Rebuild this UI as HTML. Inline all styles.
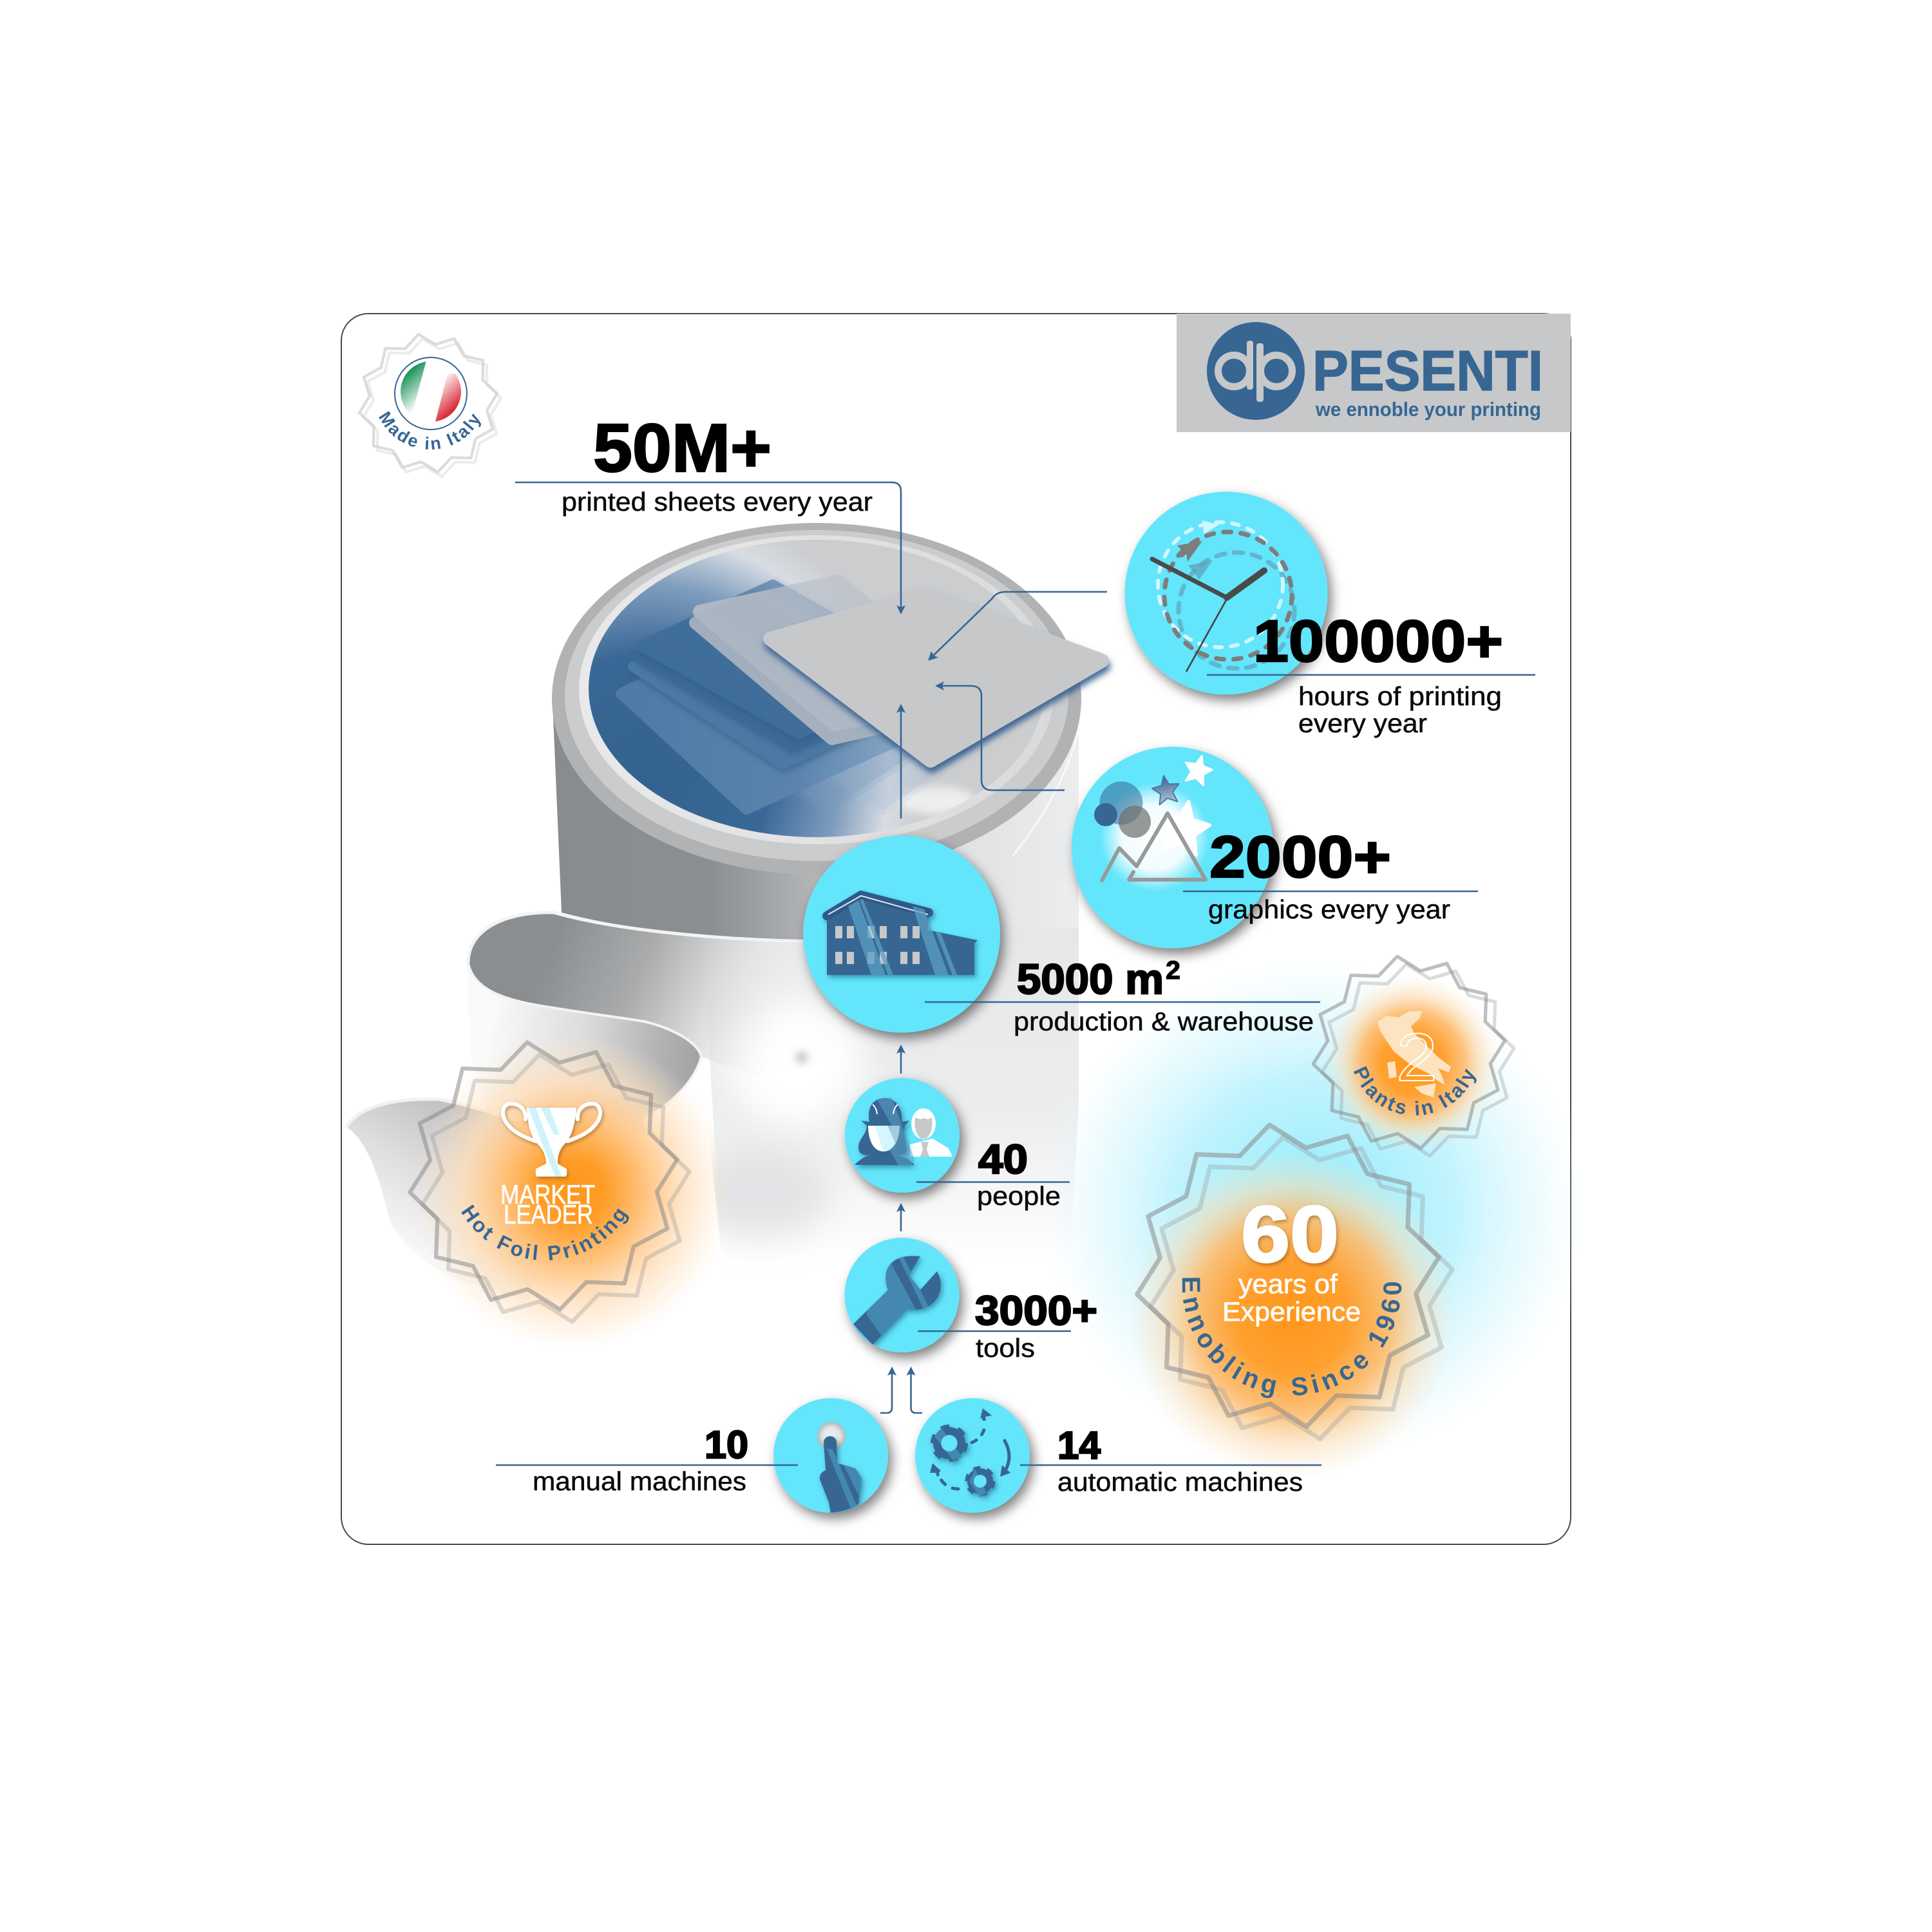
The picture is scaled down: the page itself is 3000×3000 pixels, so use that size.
<!DOCTYPE html>
<html><head><meta charset="utf-8"><style>
html,body{margin:0;padding:0;background:#fff}
svg{display:block}
text{font-family:"Liberation Sans",sans-serif}
.h{font-weight:700;fill:#000;stroke:#000;stroke-width:2.4}
.b{fill:#0a0a0a;stroke:#0a0a0a;stroke-width:.5;font-size:41px}
.c{font-weight:700;fill:#376693;letter-spacing:3px}
.w{fill:#fff;stroke:#fff;stroke-width:.7;font-size:42px}
.ln{stroke:#376693;stroke-width:2.6;fill:none}
.ar{fill:#376693}
.band{fill:#4488b0}
</style></head><body>
<svg xmlns="http://www.w3.org/2000/svg" width="3000" height="3000" viewBox="0 0 3000 3000">
<defs>
<filter id="cs" x="-30%" y="-30%" width="170%" height="170%"><feDropShadow dx="6" dy="9" stdDeviation="9" flood-color="#000" flood-opacity=".5"/></filter>
<filter id="is" x="-30%" y="-30%" width="170%" height="170%"><feDropShadow dx="3" dy="4" stdDeviation="4" flood-color="#0b3a55" flood-opacity=".45"/></filter>
<filter id="ws" x="-30%" y="-30%" width="170%" height="170%"><feDropShadow dx="2" dy="3" stdDeviation="3" flood-color="#6a3c00" flood-opacity=".45"/></filter>
<filter id="sb" x="-30%" y="-30%" width="170%" height="170%"><feDropShadow dx="2" dy="8" stdDeviation="5" flood-color="#2d5a8c" flood-opacity=".9"/></filter>
<filter id="sh2" x="-30%" y="-30%" width="170%" height="170%"><feDropShadow dx="1" dy="5" stdDeviation="5" flood-color="#2a5480" flood-opacity=".55"/></filter>
<filter id="bl" x="-50%" y="-50%" width="200%" height="200%"><feGaussianBlur stdDeviation="28"/></filter>
<filter id="bs" x="-100%" y="-100%" width="300%" height="300%"><feGaussianBlur stdDeviation="7"/></filter>
<linearGradient id="bodyG" gradientUnits="userSpaceOnUse" x1="858" y1="0" x2="1675" y2="0"><stop offset="0" stop-color="#888c8e"/><stop offset=".3" stop-color="#8b8f91"/><stop offset=".5" stop-color="#b4b6b8"/><stop offset=".75" stop-color="#dfe0e2"/><stop offset="1" stop-color="#ecedee"/></linearGradient>
<linearGradient id="lowG" gradientUnits="userSpaceOnUse" x1="0" y1="1450" x2="0" y2="1960"><stop offset="0" stop-color="#e6e7e9"/><stop offset=".55" stop-color="#ecedee"/><stop offset="1" stop-color="#fff"/></linearGradient>
<linearGradient id="ribG" gradientUnits="userSpaceOnUse" x1="850" y1="1480" x2="1230" y2="1640"><stop offset="0" stop-color="#8b8e90"/><stop offset=".35" stop-color="#a9abad"/><stop offset=".6" stop-color="#d5d6d7"/><stop offset="1" stop-color="#fff" stop-opacity="0"/></linearGradient>
<linearGradient id="frG" gradientUnits="userSpaceOnUse" x1="760" y1="1600" x2="1080" y2="1640"><stop offset="0" stop-color="#fafafa"/><stop offset=".45" stop-color="#dcdcdd"/><stop offset=".8" stop-color="#b4b5b6"/><stop offset="1" stop-color="#a3a4a5"/></linearGradient>
<linearGradient id="frV" gradientUnits="userSpaceOnUse" x1="0" y1="1560" x2="0" y2="1780"><stop offset="0" stop-color="#fff"/><stop offset=".75" stop-color="#fff"/><stop offset="1" stop-color="#000"/></linearGradient>
<mask id="frM" maskUnits="userSpaceOnUse" x="600" y="1400" width="700" height="500"><rect x="600" y="1400" width="700" height="500" fill="url(#frV)"/></mask>
<linearGradient id="lrG" gradientUnits="userSpaceOnUse" x1="780" y1="1720" x2="640" y2="1980"><stop offset="0" stop-color="#b6b7b8"/><stop offset=".5" stop-color="#dfdfe0"/><stop offset="1" stop-color="#fff"/></linearGradient>
<radialGradient id="blueG" gradientUnits="userSpaceOnUse" cx="1000" cy="1210" r="432"><stop offset="0" stop-color="#33628f"/><stop offset=".45" stop-color="#3a6896"/><stop offset=".7" stop-color="#7f9dbd"/><stop offset=".88" stop-color="#d8dde3"/><stop offset="1" stop-color="#cccdcf"/></radialGradient>
<linearGradient id="ringG" gradientUnits="userSpaceOnUse" x1="900" y1="1000" x2="1650" y2="1000"><stop offset="0" stop-color="#e9e9ea"/><stop offset="1" stop-color="#d9dadb"/></linearGradient>
<linearGradient id="blueS" gradientUnits="userSpaceOnUse" x1="1100" y1="1150" x2="1250" y2="890"><stop offset="0" stop-color="#3d6b98"/><stop offset=".6" stop-color="#416f9c"/><stop offset="1" stop-color="#8aa5c2"/></linearGradient>
<linearGradient id="blue4" gradientUnits="userSpaceOnUse" x1="1000" y1="0" x2="1400" y2="0"><stop offset="0" stop-color="#4f7ba6"/><stop offset=".6" stop-color="#5a84ad"/><stop offset="1" stop-color="#8aa7c5"/></linearGradient>
<linearGradient id="mkG" gradientUnits="userSpaceOnUse" x1="1200" y1="1100" x2="1320" y2="880"><stop offset="0" stop-color="#f5f5f5"/><stop offset=".6" stop-color="#d8d8d8"/><stop offset="1" stop-color="#5a5a5a"/></linearGradient>
<mask id="mk" maskUnits="userSpaceOnUse" x="1000" y="850" width="600" height="350"><rect x="1000" y="850" width="600" height="350" fill="url(#mkG)"/></mask>
<radialGradient id="org"><stop offset="0" stop-color="#ff971a"/><stop offset=".2" stop-color="#ff9c26"/><stop offset=".45" stop-color="#ffc27c"/><stop offset=".7" stop-color="#ffdfbb" stop-opacity=".8"/><stop offset="1" stop-color="#ffe6c8" stop-opacity="0"/></radialGradient>
<radialGradient id="org2"><stop offset="0" stop-color="#ff971a"/><stop offset=".35" stop-color="#ffa030"/><stop offset=".6" stop-color="#ffbb6c" stop-opacity=".9"/><stop offset=".8" stop-color="#ffdcb2" stop-opacity=".55"/><stop offset="1" stop-color="#ffe6c8" stop-opacity="0"/></radialGradient>
<radialGradient id="cy"><stop offset="0" stop-color="#64e5fc" stop-opacity=".75"/><stop offset=".5" stop-color="#8feafc" stop-opacity=".55"/><stop offset=".8" stop-color="#c8f4fd" stop-opacity=".3"/><stop offset="1" stop-color="#fff" stop-opacity="0"/></radialGradient>
<radialGradient id="gw"><stop offset="0" stop-color="#fff"/><stop offset=".6" stop-color="#fff" stop-opacity=".9"/><stop offset="1" stop-color="#fff" stop-opacity="0"/></radialGradient>
<linearGradient id="fg" x1="0" y1="0" x2=".45" y2="1"><stop offset="0" stop-color="#0a8a4b"/><stop offset=".3" stop-color="#1a9358"/><stop offset="1" stop-color="#fff"/></linearGradient>
<linearGradient id="fr" x1=".9" y1="1" x2=".3" y2="0"><stop offset="0" stop-color="#cc0a16"/><stop offset=".3" stop-color="#d62330"/><stop offset="1" stop-color="#fff"/></linearGradient>
<linearGradient id="bst" x1="0" y1="0" x2="0" y2="1"><stop offset="0" stop-color="#2f5f90"/><stop offset="1" stop-color="#b8c6d6"/></linearGradient>
<radialGradient id="ball" cx=".5" cy=".5"><stop offset="0" stop-color="#eaf8fb"/><stop offset=".6" stop-color="#e2e6e7"/><stop offset="1" stop-color="#b4b6b7"/></radialGradient>
<path id="st" d="M100 0L82.1 22L86.6 50L60.1 60.1L50 86.6L22 82.1L0 100L-22 82.1L-50 86.6L-60.1 60.1L-86.6 50L-82.1 22L-100 0L-82.1 -22L-86.6 -50L-60.1 -60.1L-50 -86.6L-22 -82.1L0 -100L22 -82.1L50 -86.6L60.1 -60.1L86.6 -50L82.1 -22Z" fill="none" stroke-linejoin="round"/>
<path id="p5" d="M0 -100L24 -40L88 -31L40 15L59 81L0 48L-59 81L-40 15L-88 -31L-24 -40Z" stroke-linejoin="round"/>
<path id="pFoil" d="M696 1807 A150 150 0 0 0 996 1807"/>
<path id="pEnn" d="M1839 1965 A170 170 0 1 0 2173 1965"/>
<path id="pPla" d="M2097 1632 A100 100 0 0 0 2297 1632"/>
<path id="pMad" d="M580 610 A88 88 0 0 0 756 610"/>
<clipPath id="cFlag"><circle cx="669" cy="608" r="47"/></clipPath>
<clipPath id="cHand"><path d="M1279 2240a10 10 0 0 1 20 0L1300 2272L1328 2280L1338 2296L1333 2335Q1315 2347 1290 2349L1287 2333L1273 2297Q1272 2287 1282 2283Z"/></clipPath>
<clipPath id="cWr"><path d="M1325 2056L1379 2003C1368 1975 1380 1945 1429 1951L1411 1980L1429 2003L1455 1974C1472 2005 1450 2040 1408 2033L1355 2088Z"/></clipPath>
<clipPath id="cCircT"><circle cx="1400.5" cy="2011" r="89"/></clipPath>
<clipPath id="cCircH"><circle cx="1290" cy="2260" r="89"/></clipPath>
<clipPath id="cBlue"><ellipse cx="1268" cy="1069" rx="354" ry="231"/></clipPath>
<clipPath id="cGlow"><path d="M1675 1300H2600V2500H1300V1705H1675Z"/></clipPath>
</defs>

<rect width="3000" height="3000" fill="#fff"/>
<rect x="530" y="487" width="1909" height="1911" rx="42" fill="#fff" stroke="#4a4a4a" stroke-width="2"/>

<!-- lower light body -->
<path d="M1090 1440H1675V1720L1660 1980H1122Z" fill="url(#lowG)"/>
<ellipse cx="1235" cy="1650" rx="105" ry="100" fill="#fff" filter="url(#bl)"/>
<ellipse cx="1180" cy="1850" rx="110" ry="70" fill="#e2e3e5" filter="url(#bl)"/>
<ellipse cx="1245" cy="1642" rx="8" ry="7" fill="#a0a0a0" filter="url(#bs)"/>
<rect x="1080" y="1985" width="650" height="90" fill="#fff" filter="url(#bl)"/>

<!-- white paper under fold -->
<path d="M1089 1641L1120 1950L1125 2060H800L727 1560Z" fill="#fff"/>

<!-- cylinder body -->
<path d="M858 1090L872 1417C1000 1450 1150 1462 1300 1462L1675 1440V1090Z" fill="url(#bodyG)"/>
<path d="M1680 1100C1670 1190 1620 1270 1572 1330" fill="none" stroke="#fff" stroke-width="3" opacity=".7"/>

<!-- paper front -->
<path d="M727 1495V1560L732 1650L780 1800H1000V1737C1045 1714 1080 1676 1089 1641C1085 1622 1053 1599 1000 1586C950 1578 900 1572 860 1565C790 1555 735 1540 727 1495Z" fill="url(#frG)" mask="url(#frM)"/>
<!-- dark ribbon -->
<path d="M727 1495C727 1440 790 1415 860 1417C960 1445 1130 1462 1300 1462L1350 1462V1700L1250 1700L1089 1641C1085 1622 1053 1599 1000 1586C950 1578 900 1572 860 1565C790 1555 735 1540 727 1495Z" fill="url(#ribG)"/>
<path d="M727 1495C727 1440 790 1415 860 1417C960 1445 1130 1462 1300 1462" fill="none" stroke="#f3f3f3" stroke-width="5"/>
<path d="M727 1495C735 1540 790 1555 860 1565C900 1572 950 1578 1000 1586C1053 1599 1085 1622 1089 1641C1080 1676 1045 1714 1000 1737" fill="none" stroke="#f3f3f3" stroke-width="4"/>

<!-- lower left ribbon -->
<path d="M538 1750C560 1715 620 1705 680 1707C730 1715 780 1735 840 1748L870 1880L820 2020L720 1990Q640 1960 605 1895C590 1830 570 1770 538 1750Z" fill="url(#lrG)"/>
<path d="M538 1750C560 1715 620 1705 680 1707C730 1715 780 1735 840 1748" fill="none" stroke="#f1f1f1" stroke-width="5"/>

<!-- rim -->
<ellipse cx="1268" cy="1085" rx="411" ry="273" fill="#b1b2b4"/>
<ellipse cx="1268" cy="1080" rx="391" ry="257" fill="#cbcccd"/>
<ellipse cx="1268" cy="1071" rx="369" ry="240" fill="url(#ringG)"/>
<ellipse cx="1268" cy="1069" rx="354" ry="231" fill="url(#blueG)"/>
<g clip-path="url(#cBlue)">
<ellipse cx="1455" cy="1243" rx="60" ry="22" fill="#fff" filter="url(#bs)" opacity=".65"/>
</g>

<!-- sheets -->
<g clip-path="url(#cBlue)" stroke-linejoin="round">
<path d="M1144 1120L1300 1000L1560 1130L1373 1258Z" fill="#a5bad2" opacity=".35" stroke="#a5bad2" stroke-width="16" stroke-opacity=".35"/>
<path d="M1063 1110L1240 985L1510 1110L1287 1258Z" fill="#7c9bbd" opacity=".4" stroke="#7c9bbd" stroke-width="16" stroke-opacity=".4"/>
<path d="M964 1077L1170 975L1450 1125L1159 1257Z" fill="url(#blue4)" stroke="url(#blue4)" stroke-width="16"/>
<path d="M983 1035L1190 930L1470 1070L1215 1187Z" fill="#4c79a4" stroke="#4c79a4" stroke-width="16" filter="url(#sh2)"/>
<path d="M989 1017L1195 925L1436 1065L1231 1158Z" fill="#3c6997" stroke="#3c6997" stroke-width="16" filter="url(#sh2)"/>
<path d="M995 1003L1200 908L1446 1045L1241 1140Z" fill="url(#blueS)" stroke="url(#blueS)" stroke-width="16" filter="url(#sh2)"/>
</g>
<g mask="url(#mk)" stroke-linejoin="round">
<path d="M1080 967L1290 905L1520 1095L1292 1147Z" fill="#aab3bf" stroke="#aab3bf" stroke-width="20"/>
<path d="M1087 950L1302 903L1512 1078L1297 1125Z" fill="#b6bdc7" stroke="#b6bdc7" stroke-width="22"/>
</g>
<path d="M1196 992L1435 923L1711 1026L1445 1181Z" fill="#c6c8ca" stroke="#c6c8ca" stroke-width="22" stroke-linejoin="round" filter="url(#sb)"/>

<!-- connectors top -->
<path class="ln" d="M800 749H1385Q1399 749 1399 763V944"/>
<path class="ar" d="M1399 954L1392 940L1399 943L1406 940Z"/>
<path class="ln" d="M1399 1271V1100"/>
<path class="ar" d="M1399 1093L1392 1107L1399 1104L1406 1107Z"/>
<path class="ln" d="M1653 1227H1540Q1524 1227 1524 1211V1081Q1524 1065 1508 1065H1460"/>
<path class="ar" d="M1452 1065L1466 1058L1463 1065L1466 1072Z"/>
<path class="ln" d="M1719 919H1562Q1547 919 1540 930L1447 1020"/>
<path class="ar" d="M1441 1026L1446 1011L1450 1018L1457 1021Z"/>

<!-- made in italy -->
<use href="#st" transform="translate(671 633) rotate(-8) scale(1.08)" stroke="#d0d0d0" stroke-opacity=".4" stroke-width="4"/>
<use href="#st" transform="translate(665 626) rotate(-8) scale(1.08)" stroke="#d0d0d0" stroke-opacity=".75" stroke-width="4"/>
<circle cx="669" cy="611" r="56" fill="#fff" stroke="#376693" stroke-width="2"/>
<g clip-path="url(#cFlag)"><path d="M620 560H662L640 642H620Z" fill="url(#fg)"/><path d="M695 580H725V655H676Z" fill="url(#fr)"/></g>
<text class="c" font-size="27" fill="#376693"><textPath href="#pMad" startOffset="50%" text-anchor="middle">Made in Italy</textPath></text>

<!-- logo -->
<rect x="1827" y="487" width="612" height="184" fill="#c6c8ca"/>
<circle cx="1950" cy="576" r="76" fill="#376693"/>
<circle cx="1916" cy="576" r="24.5" fill="none" stroke="#c6c8ca" stroke-width="11"/>
<circle cx="1982" cy="576" r="24.5" fill="none" stroke="#c6c8ca" stroke-width="11"/>
<rect x="1936" y="529" width="10" height="76" rx="4" fill="#c6c8ca"/>
<rect x="1951" y="533" width="11" height="91" rx="4" fill="#c6c8ca"/>
<rect x="1946" y="529" width="5" height="95" fill="#376693"/>
<text x="2038" y="606" font-size="88" font-weight="700" fill="#376693" stroke="#376693" stroke-width="1.5" textLength="358" lengthAdjust="spacingAndGlyphs">PESENTI</text>
<text x="2043" y="646" font-size="31" font-weight="700" fill="#376693" textLength="350" lengthAdjust="spacingAndGlyphs">we ennoble your printing</text>

<!-- glows and badges right -->
<g clip-path="url(#cGlow)"><ellipse cx="2040" cy="1880" rx="440" ry="410" fill="url(#cy)"/></g>
<circle cx="2193" cy="1651" r="135" fill="url(#org2)"/>
<use href="#st" transform="translate(2202 1646) rotate(-7) scale(1.5)" stroke="#9a9a9a" stroke-opacity=".35" stroke-width="3.5"/>
<use href="#st" transform="translate(2188 1634) rotate(-7) scale(1.5)" stroke="#8a8a8a" stroke-opacity=".55" stroke-width="3.5"/>
<path d="M2140 1587L2154 1578L2172 1581L2189 1571L2207 1571L2203 1581L2190 1593L2195 1605L2215 1625L2232 1642L2252 1657L2249 1664L2231 1657L2238 1670L2242 1683L2231 1676L2221 1667L2190 1652L2165 1632L2150 1610L2144 1600Z" fill="#fde3c0" stroke="#fde3c0" stroke-width="2" stroke-linejoin="round"/>
<path d="M2154 1650L2166 1648L2169 1672L2157 1675Z" fill="#fde3c0"/>
<path d="M2196 1688L2230 1682L2226 1704L2208 1698Z" fill="#fde3c0"/>
<text x="2168" y="1678" font-size="105" fill="none" stroke="#fff" stroke-width="2" textLength="64" lengthAdjust="spacingAndGlyphs">2</text>
<text class="c" font-size="31" style="letter-spacing:3.500px"><textPath href="#pPla" startOffset="50%" text-anchor="middle">Plants in Italy</textPath></text>

<circle cx="2007" cy="2043" r="255" fill="url(#org2)"/>
<use href="#st" transform="translate(2021 2000) rotate(-7) scale(2.36)" stroke="#9a9a9a" stroke-opacity=".35" stroke-width="3"/>
<use href="#st" transform="translate(2000 1981) rotate(-7) scale(2.36)" stroke="#8a8a8a" stroke-opacity=".55" stroke-width="3"/>
<text x="1927" y="1959" font-size="124" font-weight="700" fill="#fff" stroke="#fff" stroke-width="3" textLength="152" lengthAdjust="spacingAndGlyphs" filter="url(#ws)">60</text>
<text class="w" x="1923" y="2008" font-size="43" textLength="154" lengthAdjust="spacingAndGlyphs">years of</text>
<text class="w" x="1898" y="2051" font-size="43" textLength="215" lengthAdjust="spacingAndGlyphs">Experience</text>
<text class="c" font-size="40" style="letter-spacing:7.500px"><textPath href="#pEnn" startOffset="50%" text-anchor="middle">Ennobling Since 1960</textPath></text>

<!-- market leader badge -->
<circle cx="889" cy="1850" r="245" fill="url(#org)"/>
<use href="#st" transform="translate(863 1845) rotate(-7) scale(2.09)" stroke="#9a9a9a" stroke-opacity=".35" stroke-width="3"/>
<use href="#st" transform="translate(844 1826) rotate(-7) scale(2.09)" stroke="#8a8a8a" stroke-opacity=".55" stroke-width="3"/>
<g filter="url(#ws)">
<path d="M816 1738C818 1720 802 1712 790 1714C778 1718 778 1735 790 1748C800 1760 820 1768 832 1772" fill="none" stroke="#fff" stroke-width="6" stroke-linecap="round"/>
<path d="M897 1738C895 1720 911 1712 923 1714C935 1718 935 1735 923 1748C913 1760 893 1768 881 1772" fill="none" stroke="#fff" stroke-width="6" stroke-linecap="round"/>
<path d="M818 1720H895Q892 1760 878 1775Q865 1788 866 1807L880 1815Q881 1827 878 1827H834Q831 1827 832 1815L848 1807Q848 1788 833 1775Q820 1760 818 1720Z" fill="#fff"/>
</g>
<path d="M820 1720H832L872 1827H862Z" fill="#cff3fb"/>
<path d="M840 1720H853L869 1762H860Z" fill="#cff3fb"/>
<text class="w" x="777" y="1869" font-size="41" textLength="147" lengthAdjust="spacingAndGlyphs">MARKET</text>
<text class="w" x="782" y="1900" font-size="41" textLength="139" lengthAdjust="spacingAndGlyphs">LEADER</text>
<text class="c" font-size="32" style="letter-spacing:4px"><textPath href="#pFoil" startOffset="50%" text-anchor="middle">Hot Foil Printing</textPath></text>

<!-- clock -->
<circle cx="1904" cy="921" r="157.5" fill="#64e5fc" filter="url(#cs)"/>
<circle cx="1920" cy="948" r="90" fill="none" stroke="#5d8aa0" stroke-opacity=".5" stroke-width="7" stroke-dasharray="14 14" stroke-linecap="round"/>
<circle cx="1895" cy="908" r="97" fill="none" stroke="#d0f6fe" stroke-width="6" stroke-dasharray="11 14" stroke-linecap="round"/>
<circle cx="1907" cy="925" r="99" fill="none" stroke="#7d7d7d" stroke-width="7" stroke-dasharray="12 15" stroke-linecap="round"/>
<path d="M1867 840L1828 847L1836 856L1830 862L1836 866L1842 860L1844 872Z" fill="#7d7d7d"/>
<path d="M1883 870L1845 878L1862 900Z" fill="#5d9fb5" fill-opacity=".7"/>
<path d="M1893 815L1867 808L1869 829Z" fill="#d0f6fe"/>
<path d="M1905 930L1842 1043" stroke="#444" stroke-width="2.6" fill="none"/>
<path d="M1905 928L1789 868" stroke="#4a4a4a" stroke-width="7" stroke-linecap="round" fill="none"/>
<path d="M1905 928L1963 886" stroke="#4a4a4a" stroke-width="10" stroke-linecap="round" fill="none"/>
<path class="ln" d="M1874 1048H2384"/>
<text class="h" x="1946" y="1027" font-size="92" textLength="388" lengthAdjust="spacingAndGlyphs">100000+</text>
<text class="b" x="2016" y="1095" textLength="316" lengthAdjust="spacingAndGlyphs">hours of printing</text>
<text class="b" x="2016" y="1137" textLength="200" lengthAdjust="spacingAndGlyphs">every year</text>

<!-- graphics -->
<circle cx="1820.5" cy="1316" r="156.5" fill="#64e5fc" filter="url(#cs)"/>
<circle cx="1793" cy="1300" r="85" fill="url(#gw)"/>
<use href="#p5" transform="translate(1838 1288) rotate(10) scale(.44)" fill="#fff" stroke="#fff" stroke-width="12"/>
<use href="#p5" transform="translate(1860 1197) rotate(15) scale(.24)" fill="#fff" stroke="#fff" stroke-width="12"/>
<use href="#p5" transform="translate(1811 1228) rotate(-10) scale(.24)" fill="url(#bst)" stroke="#4a76a0" stroke-width="8"/>
<circle cx="1741" cy="1247" r="33.5" fill="#376693" fill-opacity=".55"/>
<circle cx="1717" cy="1265" r="18" fill="#376693"/>
<circle cx="1762" cy="1276" r="25" fill="#6e6e6e" fill-opacity=".7"/>
<path d="M1711 1367L1738 1317L1765 1345L1813 1263L1872 1366H1753L1760 1354" fill="none" stroke="#999" stroke-width="6" stroke-linecap="round" stroke-linejoin="round"/>
<path class="ln" d="M1837 1384H2295"/>
<text class="h" x="1878" y="1362" font-size="92" textLength="282" lengthAdjust="spacingAndGlyphs">2000+</text>
<text class="b" x="1876" y="1426" textLength="376" lengthAdjust="spacingAndGlyphs">graphics every year</text>

<!-- building -->
<circle cx="1400" cy="1450.5" r="153" fill="#64e5fc" filter="url(#cs)"/>
<g filter="url(#is)">
<path d="M1284 1420L1337 1390L1442 1420L1440 1444L1460 1448L1518 1460L1513 1465V1514H1284Z" fill="#376693"/>
<path d="M1284 1422L1337 1390L1442 1417" fill="none" stroke="#2f5a89" stroke-width="14" stroke-linecap="round" stroke-linejoin="round"/>
</g>
<path d="M1286 1420L1337 1391L1441 1420" fill="none" stroke="#e6e6e6" stroke-width="2"/>
<g fill="#c6c8ca">
<rect x="1297" y="1438" width="11" height="19"/><rect x="1315" y="1438" width="11" height="19"/><rect x="1347" y="1438" width="11" height="19"/><rect x="1366" y="1438" width="11" height="19"/><rect x="1398" y="1438" width="11" height="19"/><rect x="1417" y="1438" width="11" height="19"/>
<rect x="1297" y="1478" width="11" height="19"/><rect x="1315" y="1478" width="11" height="19"/><rect x="1347" y="1478" width="11" height="19"/><rect x="1366" y="1478" width="11" height="19"/><rect x="1398" y="1478" width="11" height="19"/><rect x="1417" y="1478" width="11" height="19"/>
</g>
<g class="band" fill-opacity=".75" style="fill:#5aa0c4">
<path d="M1317 1407L1333 1398L1375 1514H1353Z"/><path d="M1335 1397L1340 1396L1387 1514H1379Z"/><path d="M1417 1407L1435 1412L1473 1514H1452Z"/><path d="M1453 1447L1460 1447L1486 1514H1479Z"/>
</g>
<path class="ln" d="M1436 1556H2050"/>
<text class="h" x="1579" y="1543" font-size="66" textLength="228" lengthAdjust="spacingAndGlyphs">5000 m</text>
<text class="h" x="1810" y="1520" font-size="40" textLength="23" lengthAdjust="spacingAndGlyphs" style="stroke-width:1.2">2</text>
<text class="b" x="1574" y="1600" textLength="466" lengthAdjust="spacingAndGlyphs">production &amp; warehouse</text>

<!-- arrows -->
<path class="ln" d="M1399 1667V1630"/><path class="ar" d="M1399 1622L1392 1636L1399 1633L1406 1636Z"/>
<path class="ln" d="M1399 1912V1876"/><path class="ar" d="M1399 1868L1392 1882L1399 1879L1406 1882Z"/>
<path class="ln" d="M1367 2194H1377Q1385 2194 1385 2186V2130"/><path class="ar" d="M1385 2122L1378 2136L1385 2133L1392 2136Z"/>
<path class="ln" d="M1432 2194H1422Q1414.500 2194 1414.500 2186V2130"/><path class="ar" d="M1414.500 2122L1407.500 2136L1414.500 2133L1421.500 2136Z"/>

<!-- people -->
<circle cx="1401" cy="1763" r="89" fill="#64e5fc" filter="url(#cs)"/>
<path d="M1413 1777L1448 1768L1473 1783L1479 1796H1413Z" fill="#fff"/>
<ellipse cx="1434" cy="1745" rx="19" ry="24" fill="#fff"/>
<path d="M1421 1735Q1430 1740 1435 1736Q1442 1740 1447 1735Q1450 1758 1438 1768H1430Q1418 1758 1421 1735Z" fill="#c6c8ca"/>
<path d="M1430 1773H1442L1439 1785L1443 1796H1429L1433 1785Z" fill="#c6c8ca"/>
<path filter="url(#is)" d="M1337 1740L1350 1742C1345 1715 1360 1705 1374 1705C1390 1705 1402 1720 1400 1742L1412 1740L1405 1748C1402 1765 1408 1775 1408 1785C1408 1792 1400 1795 1392 1793C1405 1797 1412 1800 1420 1809H1327C1335 1800 1345 1795 1352 1793C1342 1795 1333 1792 1333 1782C1333 1768 1344 1765 1346 1748Z" fill="#376693"/>
<path d="M1348 1748H1397C1397 1770 1388 1788 1372 1788C1356 1788 1348 1770 1348 1748Z" fill="#fff"/>
<path d="M1370 1705H1385L1420 1800L1416 1809H1395L1358 1748H1397L1385 1748L1362 1708Z" fill="#5aa0c4" fill-opacity=".55"/>
<path d="M1358 1748H1378L1390 1775Q1382 1788 1372 1788Z" fill="#d5f6fd"/>
<path d="M1355 1715Q1361 1720 1362 1730M1394 1715Q1388 1720 1387 1730" stroke="#fff" stroke-width="2" fill="none"/>
<path class="ln" d="M1423 1835.500H1661"/>
<text class="h" x="1519" y="1822" font-size="64" textLength="77" lengthAdjust="spacingAndGlyphs">40</text>
<text class="b" x="1517" y="1871" textLength="130" lengthAdjust="spacingAndGlyphs">people</text>

<!-- tools -->
<circle cx="1400.5" cy="2011" r="89" fill="#64e5fc" filter="url(#cs)"/>
<g clip-path="url(#cCircT)"><path d="M1325 2056L1379 2003C1368 1975 1380 1945 1429 1951L1411 1980L1429 2003L1455 1974C1472 2005 1450 2040 1408 2033L1355 2088Z" fill="#376693" filter="url(#is)"/></g>
<g clip-path="url(#cWr)"><path class="band" d="M1373 1986L1382 1959L1424 2037L1398 2045L1380 2090L1345 2040Z"/><path class="band" d="M1393 1948L1400 1946L1444 2033L1436 2036Z"/></g>
<path class="ln" d="M1425 2067H1663"/>
<text class="h" x="1514" y="2057" font-size="64" textLength="190" lengthAdjust="spacingAndGlyphs">3000+</text>
<text class="b" x="1515" y="2107" textLength="92" lengthAdjust="spacingAndGlyphs">tools</text>

<!-- hand -->
<circle cx="1290" cy="2260" r="89" fill="#64e5fc" filter="url(#cs)"/>
<circle cx="1291" cy="2230" r="22" fill="url(#ball)"/>
<g clip-path="url(#cCircH)"><path d="M1279 2240a10 10 0 0 1 20 0L1300 2272L1328 2280L1338 2296L1333 2335Q1315 2347 1290 2349L1287 2333L1273 2297Q1272 2287 1282 2283Z" fill="#376693" filter="url(#is)"/></g>
<g clip-path="url(#cHand)"><path class="band" d="M1284 2250L1293 2250L1333 2345L1322 2345Z"/><path class="band" d="M1300 2255L1345 2280L1340 2335Z"/></g>
<path class="ln" d="M770 2275H1239"/>
<text class="h" x="1094" y="2264" font-size="60" textLength="68" lengthAdjust="spacingAndGlyphs">10</text>
<text class="b" x="827" y="2314" textLength="332" lengthAdjust="spacingAndGlyphs">manual machines</text>

<!-- gears -->
<circle cx="1510" cy="2260" r="89" fill="#64e5fc" filter="url(#cs)"/>
<g filter="url(#is)">
<circle cx="1474" cy="2241" r="25" fill="#376693"/><circle cx="1474" cy="2241" r="25" fill="none" stroke="#376693" stroke-width="8" stroke-dasharray="13 13.200"/>
<circle cx="1522" cy="2300" r="20" fill="#376693"/><circle cx="1522" cy="2300" r="20" fill="none" stroke="#376693" stroke-width="7" stroke-dasharray="10.500 10.440"/>
</g>
<path class="band" d="M1451 2230L1462 2218L1494 2262L1480 2268Z"/>
<path class="band" d="M1505 2300L1514 2282L1532 2318L1522 2325Z"/>
<circle cx="1474" cy="2241" r="12.700" fill="#64e5fc"/>
<circle cx="1522" cy="2300" r="10" fill="#64e5fc"/>
<path d="M1509 2240Q1528 2232 1530 2210" fill="none" stroke="#376693" stroke-width="5" stroke-dasharray="8 12" stroke-linecap="round"/>
<path d="M1526 2187L1540 2198L1530 2200L1531 2206L1526 2206L1524 2201L1522 2203Z" fill="#376693"/>
<path d="M1560 2237Q1574 2262 1560 2285" fill="none" stroke="#376693" stroke-width="5" stroke-linecap="round"/>
<path d="M1553 2293L1556 2275L1569 2287Z" fill="#376693"/>
<path d="M1488 2312Q1470 2312 1460 2296" fill="none" stroke="#376693" stroke-width="5" stroke-dasharray="9 13" stroke-linecap="round"/>
<path d="M1448 2272L1444 2287L1453 2287L1455 2293L1459 2291L1458 2286L1461 2284Z" fill="#376693"/>
<path class="ln" d="M1584 2275H2052"/>
<text class="h" x="1642" y="2265" font-size="60" textLength="67" lengthAdjust="spacingAndGlyphs">14</text>
<text class="b" x="1642" y="2315" textLength="381" lengthAdjust="spacingAndGlyphs">automatic machines</text>

<!-- headline -->
<text class="h" x="921" y="732" font-size="106" textLength="277" lengthAdjust="spacingAndGlyphs">50M+</text>
<text class="b" x="872" y="793" textLength="483" lengthAdjust="spacingAndGlyphs">printed sheets every year</text>
</svg>
</body></html>
